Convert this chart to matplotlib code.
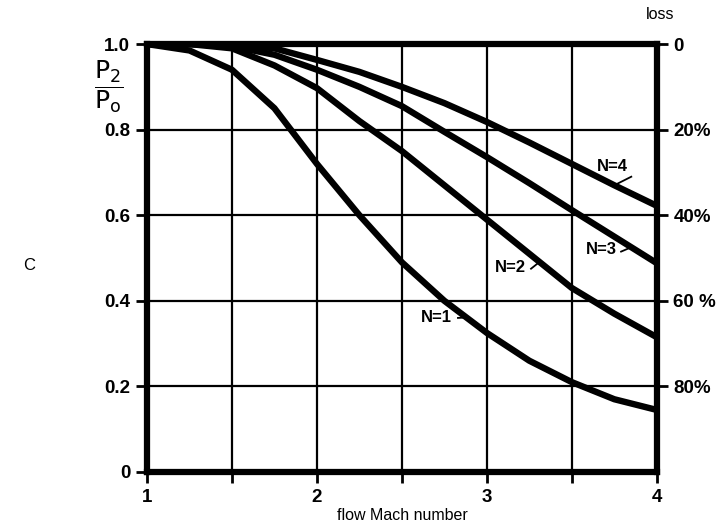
import matplotlib.pyplot as plt
import numpy as np

plt.rcParams['font.family'] = ['Liberation Sans', 'DejaVu Sans']

# Mach number samples
mach = [1.0, 1.25, 1.5, 1.75, 2.0, 2.25, 2.5, 2.75, 3.0, 3.25, 3.5, 3.75, 4.0]

# pressure recovery P2/Po for N = 1..4
n1 = [1.0, 0.985, 0.94, 0.85, 0.72, 0.60, 0.49, 0.40, 0.325, 0.26, 0.21, 0.17, 0.145]
n2 = [1.0, 1.0, 0.99, 0.95, 0.897, 0.82, 0.75, 0.67, 0.59, 0.51, 0.43, 0.37, 0.315]
n3 = [1.0, 1.0, 0.995, 0.975, 0.94, 0.90, 0.855, 0.795, 0.736, 0.675, 0.612, 0.55, 0.488]
n4 = [1.0, 1.0, 1.0, 0.99, 0.963, 0.935, 0.90, 0.862, 0.818, 0.77, 0.72, 0.67, 0.622]

curves = [n1, n2, n3, n4]
names = ["N=1", "N=2", "N=3", "N=4"]
# label text position (left, centre), leader start and x where it meets the curve
label_xy = [(2.61, 0.36), (3.05, 0.477), (3.58, 0.519), (3.65, 0.714)]
leader_start = [(2.83, 0.36), (3.26, 0.475), (3.79, 0.515), (3.85, 0.69)]
leader_end_x = [2.88, 3.31, 3.85, 3.75]

left_ticks = [0, 0.2, 0.4, 0.6, 0.8, 1.0]
left_labels = ["0", "0.2", "0.4", "0.6", "0.8", "1.0"]
right_ticks = [0.2, 0.4, 0.6, 0.8, 1.0]
right_labels = ["80%", "60 %", "40%", "20%", "0"]

fig = plt.figure(figsize=(7.17, 5.27), dpi=100)
ax = fig.add_axes([0.205, 0.1044, 0.711, 0.812])

for y in curves:
    ax.plot(mach, y, color='black', lw=4.6, solid_joinstyle='round',
            solid_capstyle='butt', zorder=3)

for name, (tx, ty), (sx, sy), ex, y in zip(names, label_xy, leader_start, leader_end_x, curves):
    ax.text(tx, ty, name, fontsize=12, fontweight='bold', ha='left', va='center')
    ey = np.interp(ex, mach, y)
    ax.plot([sx, ex], [sy, ey], color='black', lw=1.3)

ax.set_xlim(1, 4)
ax.set_ylim(0, 1)
ax.set_xticks([1, 1.5, 2, 2.5, 3, 3.5, 4])
ax.set_xticklabels(["1", "", "2", "", "3", "", "4"])
ax.set_yticks(left_ticks)
ax.set_yticklabels(left_labels)
ax.grid(True, color='black', lw=1.6)
ax.set_axisbelow(True)
for s in ax.spines.values():
    s.set_linewidth(4.5)
ax.tick_params(direction='out', length=8, width=2, labelsize=13.5, pad=4)
for t in ax.get_xticklabels() + ax.get_yticklabels():
    t.set_fontweight('bold')

ax2 = ax.twinx()
ax2.set_ylim(0, 1)
ax2.set_yticks(right_ticks)
ax2.set_yticklabels(right_labels)
ax2.tick_params(direction='out', length=8, width=2, labelsize=13.5, pad=4)
for t in ax2.get_yticklabels():
    t.set_fontweight('bold')
for s in ax2.spines.values():
    s.set_visible(False)

ax.set_xlabel("flow Mach number", fontsize=11.5, labelpad=2)

fig.text(0.151, 0.835, r'$\dfrac{\mathsf{P_2}}{\mathsf{P_o}}$', fontsize=18, ha='center', va='center')
fig.text(0.92, 0.972, "loss", fontsize=11.5, ha='center', va='center')
fig.text(0.04, 0.497, "C", fontsize=12, ha='center', va='center')

fig.savefig("out.png", dpi=100)
